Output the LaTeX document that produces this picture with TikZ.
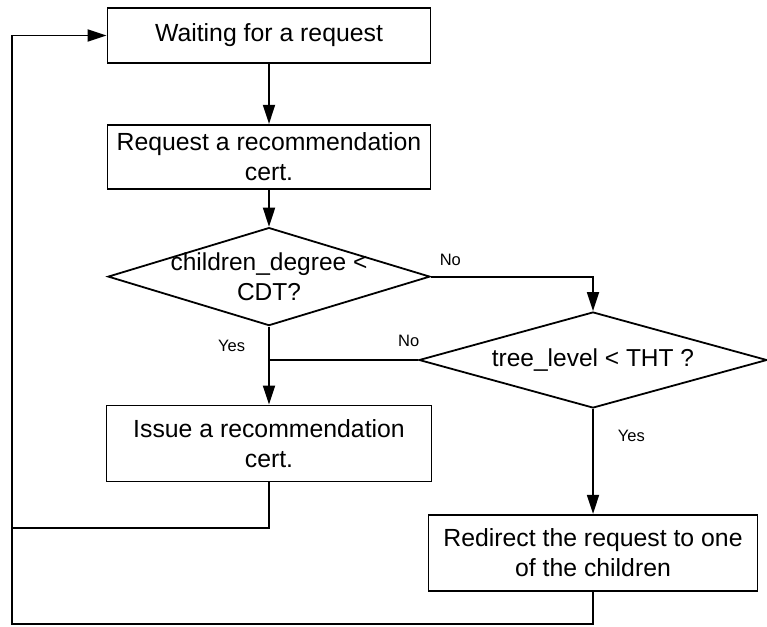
\documentclass[tikz,border=0pt]{standalone}
\usepackage{fontspec}
\setmainfont{Liberation Sans}
\usetikzlibrary{positioning}
\usetikzlibrary{arrows.meta}
\usetikzlibrary{shapes.geometric}
\tikzset{every picture/.style={line width=1.8pt, >={Triangle[length=19pt,width=12pt]}}}
\tikzstyle{block}=[draw,minimum width=323pt,inner sep=0pt,align=center,font=\fontsize{24.8}{30}\selectfont]
\tikzstyle{decision}=[draw,diamond,inner sep=0pt,align=center,font=\fontsize{24.5}{30}\selectfont]
\tikzstyle{tag}=[font=\fontsize{16.5}{18}\selectfont,inner sep=0pt]

\begin{document}
\begin{tikzpicture}[x=1pt,y=-1pt]
        \useasboundingbox (0,0) rectangle (767,626);
        \node [block,minimum height=55pt] (wait) at (269,35.5) {Waiting for a request};
        \node [block,minimum height=64pt,below=60pt of wait] (req) {Request a recommendation\\cert.};
        \node [decision,minimum width=322pt,minimum height=98pt,aspect=3.3,inner ysep=-10pt,below=37pt of req] (cdt) {children\_degree <\\CDT?};
        \node [block,minimum width=325pt,minimum height=76pt,below=78pt of cdt] (issue) {Issue a recommendation\\cert.};
        \node [decision,minimum width=348pt,minimum height=96pt,aspect=3.6] (tht) at (593,360) {tree\_level < THT ?};
        \node [block,minimum width=329pt,minimum height=76pt,below=105pt of tht] (redir) {Redirect the request to one\\of the children};
        \coordinate (rail) at (12,624);
        \draw [->] (wait) -- (req);
        \draw [->] (req) -- (cdt);
        \draw [->] (cdt.south) -- (issue.north) node [tag,at start,anchor=north east,xshift=-23pt,yshift=-13pt] {Yes};
        \draw [->] (cdt.east) -| (tht.north) node [tag,at start,anchor=south west,xshift=8pt,yshift=10pt] {No};
        \draw (tht.west) -- (tht.west -| cdt.south) node [tag,at start,anchor=south east,xshift=2pt,yshift=12pt] {No};
        \draw [->] (tht.south) -- (redir.north) node [tag,at start,anchor=north west,xshift=24pt,yshift=-20pt] {Yes};
        \draw (issue.south) -- ++(0,46) -| (rail);
        \draw [->] (redir.south) |- (rail) |- (wait.west);
\end{tikzpicture}
\end{document}
